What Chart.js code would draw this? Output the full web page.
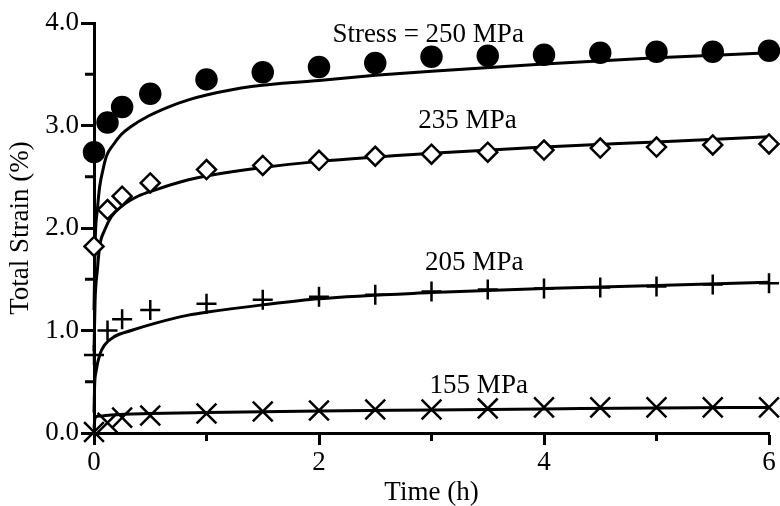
<!DOCTYPE html>
<html>
<head>
<meta charset="utf-8">
<style>
  html, body { margin: 0; padding: 0; background: #fff; }
  #strain-chart { display: block; }
</style>
<script src="https://cdn.jsdelivr.net/npm/chart.js@4.4.1/dist/chart.umd.min.js"></script>
</head>
<body>
<canvas id="strain-chart" width="780" height="506"></canvas>
<script>
// Measured creep points (same sampling times for every stress level)
const pointTimes = [0, 0.12, 0.25, 0.5, 1, 1.5, 2, 2.5, 3, 3.5, 4, 4.5, 5, 5.5, 6];
const strain250 = [2.74, 3.03, 3.18, 3.31, 3.45, 3.52, 3.57, 3.61, 3.67, 3.68, 3.69, 3.71, 3.72, 3.72, 3.73];
const strain235 = [1.82, 2.18, 2.31, 2.44, 2.57, 2.61, 2.66, 2.70, 2.72, 2.74, 2.76, 2.78, 2.79, 2.81, 2.82];
const strain205 = [0.76, 1.0, 1.11, 1.2, 1.26, 1.30, 1.33, 1.35, 1.38, 1.40, 1.41, 1.42, 1.43, 1.45, 1.46];
const strain155 = [0.01, 0.1, 0.15, 0.17, 0.19, 0.21, 0.22, 0.23, 0.23, 0.24, 0.25, 0.25, 0.25, 0.25, 0.25];

// Fitted curves (denser near t = 0 where they bend)
const fit250Times = [0, 0.006, 0.012, 0.03, 0.05, 0.08, 0.11, 0.17, 0.24, 0.33, 0.48, 0.66, 0.84, 1.01, 1.4, 2, 2.5, 3, 4, 5, 6];
const fit250Values = [1.2, 1.59, 1.92, 2.18, 2.40, 2.57, 2.70, 2.81, 2.91, 2.99, 3.09, 3.18, 3.25, 3.30, 3.38, 3.44, 3.49, 3.53, 3.60, 3.66, 3.71];
const fit235Times = [0, 0.01, 0.03, 0.05, 0.095, 0.154, 0.243, 0.39, 0.54, 0.84, 1.01, 1.5, 2, 3, 4, 5, 6];
const fit235Values = [0.8, 1.3, 1.59, 1.82, 1.98, 2.11, 2.21, 2.31, 2.37, 2.47, 2.51, 2.59, 2.65, 2.73, 2.79, 2.84, 2.89];
const fit205Times = [0, 0.005, 0.02, 0.05, 0.095, 0.18, 0.33, 0.54, 0.84, 1.01, 1.5, 2, 3, 4, 5, 6];
const fit205Values = [0.2, 0.45, 0.61, 0.76, 0.86, 0.94, 1.0, 1.07, 1.15, 1.18, 1.25, 1.31, 1.37, 1.41, 1.44, 1.47];
const fit155Times = [0, 0.01, 0.05, 0.15, 0.5, 1, 2, 3, 4, 5, 6];
const fit155Values = [0.05, 0.15, 0.165, 0.176, 0.19, 0.2, 0.215, 0.225, 0.235, 0.245, 0.25];

const curveLabels = ["Stress = 250 MPa", "235 MPa", "205 MPa", "155 MPa"];
const labelTimes = [2.97, 3.32, 3.38, 3.42];
const labelValues = [3.88, 3.04, 1.66, 0.46];

const xTicks = [0, 2, 4, 6];
const yTicks = [0, 1, 2, 3, 4];

(function () {
  const FONT = "'Liberation Serif', 'Times New Roman', serif";
  const FONT_SIZE = 27;
  Chart.defaults.font.family = FONT;
  Chart.defaults.font.size = FONT_SIZE;
  Chart.defaults.color = "#000";

  function toPoints(xs, ys) {
    return xs.map(function (x, i) { return { x: x, y: ys[i] }; });
  }

  function fitDataset(xs, ys) {
    return {
      type: "line",
      data: toPoints(xs, ys),
      borderColor: "#000",
      borderWidth: 3,
      pointRadius: 0,
      fill: false,
      cubicInterpolationMode: "monotone",
      clip: false,
      order: 2,
    };
  }

  function markerDataset(ys, style, radius, filled) {
    return {
      type: "scatter",
      data: toPoints(pointTimes, ys),
      pointStyle: style,
      pointRadius: radius,
      pointBackgroundColor: filled ? "#000" : "#fff",
      pointBorderColor: "#000",
      pointBorderWidth: 2.5,
      showLine: false,
      clip: false,
      order: 1,
    };
  }

  // Chart.js only has one tick length per axis, so the short minor ticks
  // (odd hours, half percents) are drawn here from the scale itself.
  const minorTicks = {
    id: "minorTicks",
    beforeDatasetsDraw: function (chart) {
      const ctx = chart.ctx;
      const xs = chart.scales.x;
      const ys = chart.scales.y;
      ctx.save();
      ctx.strokeStyle = "#000";
      ctx.lineWidth = 3;
      ctx.beginPath();
      xs.ticks.forEach(function (t) {
        if (xTicks.indexOf(t.value) !== -1) return;
        const px = xs.getPixelForValue(t.value);
        ctx.moveTo(px, ys.bottom);
        ctx.lineTo(px, ys.bottom + 8);
      });
      ys.ticks.forEach(function (t) {
        if (yTicks.indexOf(t.value) !== -1) return;
        const py = ys.getPixelForValue(t.value);
        ctx.moveTo(xs.left - 9, py);
        ctx.lineTo(xs.left, py);
      });
      ctx.stroke();
      ctx.restore();
    },
  };

  const curveText = {
    id: "curveText",
    afterDatasetsDraw: function (chart) {
      const ctx = chart.ctx;
      ctx.save();
      ctx.font = FONT_SIZE + "px " + FONT;
      ctx.fillStyle = "#000";
      ctx.textAlign = "center";
      ctx.textBaseline = "middle";
      curveLabels.forEach(function (text, i) {
        ctx.fillText(
          text,
          chart.scales.x.getPixelForValue(labelTimes[i]),
          chart.scales.y.getPixelForValue(labelValues[i])
        );
      });
      ctx.restore();
    },
  };

  function majorOnly(list) {
    return function (c) {
      return c.tick && list.indexOf(c.tick.value) !== -1 ? "#000" : "rgba(0,0,0,0)";
    };
  }

  new Chart(document.getElementById("strain-chart"), {
    data: {
      datasets: [
        fitDataset(fit250Times, fit250Values),
        fitDataset(fit235Times, fit235Values),
        fitDataset(fit205Times, fit205Values),
        fitDataset(fit155Times, fit155Values),
        markerDataset(strain250, "circle", 10, true),
        markerDataset(strain235, "rectRot", 9.5, false),
        markerDataset(strain205, "cross", 10, false),
        markerDataset(strain155, "crossRot", 14, false),
      ],
    },
    options: {
      responsive: false,
      animation: false,
      // autoPadding off: the "6" is allowed to run into the canvas edge, as in the original
      layout: { autoPadding: false, padding: { top: 23, right: 11, bottom: 0, left: 0 } },
      plugins: { legend: { display: false }, tooltip: { enabled: false } },
      scales: {
        x: {
          type: "linear",
          min: 0,
          max: 6,
          border: { display: true, color: "#000", width: 3 },
          grid: {
            drawOnChartArea: false,
            drawTicks: true,
            tickLength: 12,
            tickWidth: 3,
            tickColor: majorOnly(xTicks),
          },
          ticks: {
            stepSize: 1,
            padding: 2,
            maxRotation: 0,
            autoSkip: false,
            callback: function (v) { return xTicks.indexOf(v) !== -1 ? String(v) : ""; },
          },
          title: {
            display: true,
            text: "Time (h)",
            font: { size: FONT_SIZE, lineHeight: 1 },
            padding: { top: 0, bottom: 0 },
          },
          afterFit: function (scale) { scale.height = 73; },
        },
        y: {
          type: "linear",
          min: 0,
          max: 4,
          border: { display: true, color: "#000", width: 3 },
          grid: {
            drawOnChartArea: false,
            drawTicks: true,
            tickLength: 13,
            tickWidth: 3,
            tickColor: majorOnly(yTicks),
          },
          ticks: {
            stepSize: 0.5,
            padding: 2,
            autoSkip: false,
            callback: function (v) { return yTicks.indexOf(v) !== -1 ? v.toFixed(1) : ""; },
          },
          title: {
            display: true,
            text: "Total Strain (%)",
            font: { size: FONT_SIZE, lineHeight: 1.2 },
            padding: { top: 5, bottom: 0 },
          },
          afterFit: function (scale) { scale.width = 94; },
        },
      },
    },
    plugins: [minorTicks, curveText],
  });
})();
</script>
</body>
</html>
